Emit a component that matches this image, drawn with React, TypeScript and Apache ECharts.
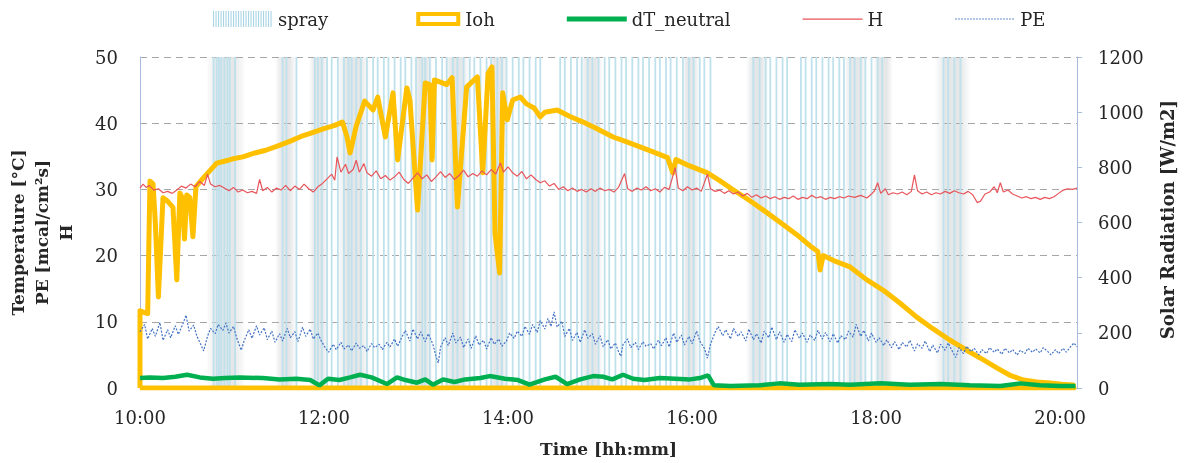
import React, { useEffect, useRef } from 'react';
import * as echarts from 'echarts';

// x values are minutes after 10:00
const xTickLabels = ['10:00', '12:00', '14:00', '16:00', '18:00', '20:00'];

// spray pulses (minutes after 10:00)
const sprayTimes = [48, 50, 51.5, 53, 55, 57, 58.5, 62, 93, 95.5, 102, 114, 116, 118.5, 122, 125, 129, 133, 136, 138, 141, 144, 148, 152, 155, 159, 162, 166, 170, 173, 177, 180, 184, 186, 189, 193, 197, 200, 204, 207, 211, 215, 218, 222, 226, 229, 233, 236, 239, 243, 247, 250, 254, 258, 261, 274, 277, 281, 285, 288, 292, 295, 299, 303, 306, 310, 314, 317, 321, 325, 328, 332, 336, 339, 343, 346, 350, 354, 358, 361, 365, 368, 372, 400, 404, 408, 411, 415, 419, 422, 431, 434, 438, 441, 445, 449, 452, 456, 459, 463, 466, 470, 473, 477, 481, 484, 524, 527, 531, 535];
// denser spray spells (start, end minutes)
const sprayBands = [[47, 65], [92, 98], [114, 119], [132, 146], [182, 187], [202, 211], [231, 236], [291, 298], [357, 361], [399, 406], [463, 470], [482, 487], [522, 538]];

// Ioh outline (minutes, W/m2)
const iohData = [[0, 0], [0, 280], [2, 275], [5, 270], [6.5, 750], [8.5, 740], [10, 600], [12, 330], [15, 690], [17.5, 680], [21.5, 655], [24, 392], [26, 707], [27.5, 690], [29, 540], [30.5, 700], [32.5, 690], [34.5, 548], [36.5, 730], [41, 760], [47.5, 800], [50, 815], [55, 822], [60, 830], [67, 838], [75, 852], [82, 862], [90, 878], [98, 895], [105, 912], [112, 925], [120, 940], [127, 952], [132, 964], [135, 910], [137, 852], [141, 950], [146.5, 1040], [152, 1008], [155, 1055], [160, 910], [165, 1070], [168, 827], [174, 1088], [176, 1044], [181, 645], [186, 1106], [189, 1100], [190.5, 827], [192, 1117], [200, 1100], [203.5, 1125], [207, 656], [213, 1091], [220, 1128], [223.5, 780], [227, 1142], [229.5, 1164], [231.5, 562], [234.5, 417], [236.5, 1070], [239.5, 972], [243, 1044], [248, 1055], [252, 1030], [257, 1015], [261, 983], [264, 1000], [272, 1008], [280, 985], [289, 964], [298, 940], [308.5, 910], [317, 893], [326, 874], [335, 855], [344, 835], [347.5, 780], [349.5, 828], [358, 806], [370, 780], [378, 752], [387, 718], [398, 678], [409, 635], [420, 590], [430, 548], [437, 515], [442, 495], [443.5, 428], [445.5, 480], [454, 458], [463, 439], [474, 392], [484.5, 355], [495.5, 308], [506.5, 257], [517, 215], [528, 174], [539, 137], [550, 102], [559, 72], [567, 47], [576, 29], [585, 22], [593.5, 18], [601, 14], [608.5, 11], [609, 0], [0, 0]];

// dT_neutral (minutes, degC)
const dtData = [[0, 1.5], [6.5, 1.6], [15, 1.5], [23, 1.7], [30.7, 2.0], [39, 1.6], [47.6, 1.4], [55.4, 1.5], [65, 1.6], [80, 1.5], [91, 1.3], [102, 1.4], [111, 1.2], [117, 0.4], [122.6, 1.4], [130, 1.2], [137, 1.6], [143.5, 2.0], [151, 1.6], [161, 0.6], [167.6, 1.6], [173, 1.2], [180.6, 0.8], [186, 1.3], [191, 0.5], [197.6, 1.3], [205, 0.9], [212, 1.3], [222, 1.5], [228, 1.8], [238, 1.4], [246.5, 1.2], [254, 0.5], [264, 1.3], [271, 1.7], [278.5, 0.6], [287, 1.3], [295.5, 1.8], [302, 1.7], [308, 1.3], [315, 2.0], [321.5, 1.4], [329, 1.2], [339, 1.5], [349, 1.4], [358.7, 1.3], [365, 1.5], [370.4, 1.9], [374.3, 0.4], [385, 0.3], [404, 0.4], [417, 0.7], [430, 0.5], [450, 0.6], [463, 0.5], [483, 0.7], [502, 0.5], [522, 0.6], [541, 0.4], [561, 0.3], [574, 0.7], [587, 0.4], [600, 0.3], [610, 0.3]];

// H (minutes, value)
const hData = [[0, 30.2], [2, 30.8], [4, 30.3], [6, 30.6], [9, 29.9], [12, 30.1], [15, 29.5], [18, 29.7], [21, 29.4], [24, 29.9], [27, 30.5], [30, 30.2], [33, 30.8], [36, 30.4], [39, 31.2], [42, 30.6], [44, 32.3], [46, 30.8], [49, 30.4], [52, 30.6], [55, 30.2], [58, 29.8], [61, 30.3], [64, 29.6], [67, 29.9], [70, 29.5], [73, 29.7], [76, 29.4], [78, 31.5], [80, 29.8], [83, 30.3], [86, 29.6], [89, 30.2], [92, 29.9], [95, 30.6], [98, 29.8], [101, 30.5], [104, 30.0], [107, 30.8], [110, 30.1], [113, 29.6], [116, 30.4], [119, 30.9], [122, 31.6], [125, 32.3], [127, 31.4], [128.5, 34.9], [131, 32.6], [134, 33.8], [136, 32.4], [139, 33.0], [141, 34.4], [143, 32.6], [146, 33.9], [148, 32.5], [151, 32.0], [154, 32.8], [157, 31.6], [160, 32.1], [163, 31.4], [166, 31.9], [169, 32.6], [172, 31.5], [175, 30.9], [178, 31.7], [181, 32.5], [184, 31.6], [187, 32.2], [190, 31.2], [193, 31.9], [196, 32.7], [199, 31.8], [202, 32.4], [205, 31.5], [208, 32.1], [211, 32.9], [214, 31.9], [217, 32.4], [220, 32.0], [223, 32.8], [226, 32.2], [229, 33.0], [232, 32.3], [235, 34.0], [237, 32.6], [240, 33.4], [243, 32.5], [246, 32.0], [249, 32.7], [252, 31.6], [255, 32.2], [258, 31.5], [261, 31.0], [264, 31.3], [267, 30.5], [270, 30.9], [273, 30.0], [276, 30.4], [279, 29.8], [282, 30.2], [285, 29.7], [288, 30.0], [291, 29.6], [294, 30.1], [297, 29.7], [300, 30.2], [303, 29.8], [306, 30.0], [309, 29.6], [312, 30.3], [316, 32.4], [318, 30.1], [321, 29.7], [324, 30.2], [327, 29.9], [330, 30.4], [333, 29.8], [336, 30.1], [339, 29.6], [342, 30.3], [345, 30.0], [349, 33.3], [351, 30.2], [354, 29.8], [357, 30.4], [360, 29.9], [363, 30.2], [366, 29.7], [370, 32.3], [372, 30.1], [375, 29.7], [378, 29.9], [381, 29.4], [384, 29.8], [387, 29.3], [390, 29.6], [393, 29.0], [396, 29.4], [399, 28.8], [402, 29.2], [405, 28.7], [408, 29.0], [411, 28.6], [414, 28.9], [417, 28.5], [420, 28.8], [423, 28.6], [426, 29.0], [429, 28.5], [432, 28.8], [435, 28.6], [438, 29.1], [441, 28.7], [444, 28.9], [447, 28.5], [450, 28.8], [453, 28.6], [456, 28.9], [459, 28.7], [462, 29.0], [466, 28.8], [470, 29.1], [474, 28.7], [477, 29.3], [479, 29.8], [481, 31.0], [483, 29.4], [486, 30.1], [488, 29.2], [491, 29.5], [494, 29.3], [497, 29.6], [500, 29.2], [503, 29.7], [505, 32.2], [507, 29.8], [510, 29.3], [513, 29.6], [516, 29.2], [519, 29.5], [522, 29.3], [525, 29.7], [528, 29.4], [531, 29.8], [534, 29.5], [537, 29.3], [540, 29.7], [543, 29.2], [546, 28.0], [548, 28.2], [551, 29.3], [554, 29.6], [557, 30.4], [559, 29.5], [561, 31.0], [563, 29.6], [566, 29.9], [569, 29.3], [572, 29.0], [575, 28.7], [578, 28.9], [581, 28.6], [584, 28.8], [587, 28.5], [590, 28.8], [593, 28.6], [596, 28.9], [599, 29.4], [602, 29.9], [605, 30.1], [608, 30.0], [611, 30.2]];

// PE (minutes, mcal/cm2s)
const peData = [[0, 8.5], [3, 9.6], [5, 7.4], [8, 9.0], [10, 7.8], [13, 9.9], [15, 7.2], [18, 8.8], [20, 7.6], [23, 9.4], [25, 8.1], [28, 9.7], [30, 11.0], [32, 8.6], [35, 9.5], [37, 7.9], [40, 6.4], [41.5, 5.6], [44, 7.8], [46, 9.0], [49, 8.2], [51, 9.6], [54, 8.7], [56, 9.8], [58, 8.3], [61, 9.3], [63, 7.6], [66, 5.7], [68, 7.2], [71, 8.8], [73, 7.5], [76, 9.4], [78, 8.0], [81, 9.1], [83, 7.3], [86, 8.6], [88, 6.9], [91, 8.2], [93, 7.1], [96, 9.0], [98, 7.6], [101, 8.5], [103, 7.0], [106, 9.2], [108, 7.8], [111, 8.9], [113, 7.4], [116, 8.3], [118, 7.2], [121, 6.0], [123, 5.4], [126, 6.6], [128, 5.8], [131, 6.9], [133, 5.9], [136, 6.5], [138, 5.6], [141, 6.8], [143, 6.0], [146, 6.4], [148, 5.5], [151, 6.7], [153, 6.1], [156, 6.6], [158, 5.8], [161, 6.9], [163, 6.2], [166, 7.4], [168, 6.3], [171, 7.8], [173, 8.7], [176, 7.1], [178, 8.9], [181, 7.4], [183, 8.5], [186, 7.0], [188, 8.2], [191, 6.6], [193, 4.8], [194.5, 3.8], [196, 6.2], [199, 7.6], [201, 6.4], [204, 8.3], [206, 6.8], [209, 7.7], [211, 6.1], [214, 7.4], [216, 6.0], [219, 7.9], [221, 6.5], [224, 7.2], [226, 5.9], [229, 7.6], [231, 6.6], [234, 7.4], [236, 6.3], [239, 7.1], [241, 8.3], [244, 7.5], [246, 8.6], [249, 7.8], [251, 9.3], [254, 8.1], [256, 9.6], [259, 8.4], [261, 10.2], [264, 8.9], [266, 10.5], [268, 9.3], [270, 11.5], [272, 9.2], [275, 10.1], [277, 7.8], [280, 9.0], [282, 7.2], [285, 8.4], [287, 6.9], [290, 8.8], [292, 7.5], [295, 8.2], [297, 6.6], [300, 7.9], [302, 6.2], [305, 7.3], [307, 5.9], [310, 6.8], [312, 5.5], [313.5, 4.8], [315, 6.6], [318, 7.4], [320, 6.1], [323, 6.9], [325, 5.8], [328, 7.0], [330, 6.3], [333, 6.7], [335, 5.9], [338, 7.2], [340, 6.4], [343, 7.6], [345, 6.2], [348, 8.3], [350, 6.9], [353, 8.0], [355, 6.5], [358, 7.8], [360, 6.7], [363, 8.6], [365, 7.1], [368, 6.0], [370, 4.5], [372, 6.6], [375, 8.4], [377, 9.3], [380, 7.9], [382, 8.8], [385, 7.4], [387, 9.0], [390, 7.8], [392, 8.5], [395, 7.1], [397, 8.9], [400, 7.3], [402, 8.2], [405, 6.8], [407, 8.6], [410, 7.6], [412, 9.2], [415, 7.3], [417, 8.5], [420, 6.9], [422, 8.1], [425, 7.0], [427, 8.8], [430, 7.5], [432, 8.3], [435, 6.9], [437, 8.0], [440, 7.2], [442, 8.7], [445, 7.4], [447, 8.4], [450, 7.0], [452, 8.2], [455, 6.8], [457, 7.9], [460, 7.3], [462, 8.6], [465, 7.7], [467, 9.6], [470, 7.8], [472, 8.7], [475, 7.1], [477, 8.3], [480, 6.9], [482, 7.6], [485, 6.4], [487, 7.3], [490, 6.1], [492, 7.0], [495, 5.8], [497, 6.9], [500, 6.2], [502, 7.2], [505, 5.6], [507, 6.7], [510, 6.0], [512, 7.1], [515, 5.5], [517, 6.5], [520, 5.3], [522, 6.6], [525, 5.7], [527, 6.8], [530, 5.4], [532, 4.6], [534, 6.1], [537, 5.2], [539, 6.3], [542, 5.5], [544, 6.0], [547, 5.0], [549, 5.8], [552, 5.2], [554, 6.1], [557, 5.4], [559, 5.9], [562, 5.1], [564, 6.0], [567, 5.3], [569, 5.8], [572, 5.0], [574, 5.7], [577, 5.2], [579, 6.0], [582, 5.4], [584, 5.9], [587, 5.3], [589, 6.1], [592, 5.5], [594, 5.0], [597, 5.8], [599, 5.2], [602, 6.0], [604, 5.4], [607, 6.3], [609, 6.8], [611, 6.2]];

const FONT = 'DejaVu Serif';
const TXT = '#262626';

function buildIcons() {
  const corners = 'M0 0h0.01v0.01H0z M59.99 15.99h0.01v0.01h-0.01z ';
  let stripes = corners;
  for (let i = 0; i < 24; i++) stripes += `M${i * 2.5} 0h1.1v16h-1.1z `;
  let dots = corners;
  for (let i = 0; i < 20; i++) dots += `M${i * 3} 7.4h1.6v1.2h-1.6z `;
  return {
    spray: 'path://' + stripes,
    ioh: 'path://' + corners + 'M16 1h44v4H16z M16 11h44v4H16z M16 5h4v6h-4z M56 5h4v6h-4z',
    dt: 'path://' + corners + 'M0 5.6h60v4.8H0z',
    h: 'path://' + corners + 'M0 7.4h60v1.3H0z',
    pe: 'path://' + dots,
  };
}

export default function App() {
  const ref = useRef<HTMLDivElement>(null);
  useEffect(() => {
    if (!ref.current) return;
    const chart = echarts.init(ref.current, undefined, { renderer: 'svg' });
    const icons = buildIcons();
    const option: any = {
      animation: false,
      textStyle: { fontFamily: FONT },
      legend: {
        left: 208,
        top: 5,
        itemWidth: 60,
        itemHeight: 16,
        itemGap: 72,
        textStyle: { fontSize: 18, color: TXT, fontFamily: FONT },
        data: [
          { name: 'spray', icon: icons.spray, itemStyle: { color: '#a9d5e6', borderWidth: 0 } },
          { name: 'Ioh', icon: icons.ioh, itemStyle: { color: '#FFC000', borderWidth: 0 } },
          { name: 'dT_neutral', icon: icons.dt, itemStyle: { color: '#00B050', borderWidth: 0 } },
          { name: 'H', icon: icons.h, itemStyle: { color: '#E8555A', borderWidth: 0 } },
          { name: 'PE', icon: icons.pe, itemStyle: { color: '#4472C4', borderWidth: 0 } },
        ],
      },
      grid: { left: 140, right: 112, top: 57, bottom: 75, outerBoundsMode: 'none' },
      xAxis: {
        type: 'value',
        min: 0,
        max: 611,
        interval: 120,
        name: 'Time [hh:mm]',
        nameLocation: 'middle',
        nameGap: 52,
        nameTextStyle: { fontSize: 17, fontWeight: 'bold', color: TXT, fontFamily: FONT },
        axisLine: { show: true, lineStyle: { color: '#bfbfbf' } },
        axisTick: { show: false },
        splitLine: { show: false },
        axisLabel: {
          showMaxLabel: false,
          margin: 20,
          fontSize: 18,
          color: TXT,
          fontFamily: FONT,
          formatter: (v: number) => (v % 120 === 0 ? xTickLabels[v / 120] ?? '' : ''),
        },
      },
      yAxis: [
        {
          type: 'value',
          min: 0,
          max: 50,
          interval: 10,
          name: 'Temperature [°C]\nPE [mcal/cm²s]\nH',
          nameLocation: 'middle',
          nameRotate: 90,
          nameGap: 62,
          nameTextStyle: { fontSize: 17, fontWeight: 'bold', color: TXT, fontFamily: FONT, lineHeight: 24, padding: [0, 20, 0, 0] },
          axisLine: { show: true, lineStyle: { color: '#a9bcd9' } },
          axisTick: { show: false },
          splitLine: { show: true, lineStyle: { color: '#a6a6a6', type: [7, 5], width: 1 } },
          axisLabel: { margin: 22, fontSize: 18, color: TXT, fontFamily: FONT },
        },
        {
          type: 'value',
          min: 0,
          max: 1200,
          interval: 200,
          position: 'right',
          name: 'Solar Radiation [W/m2]',
          nameLocation: 'middle',
          nameRotate: 90,
          nameGap: 81,
          nameTextStyle: { fontSize: 18, fontWeight: 'bold', color: TXT, fontFamily: FONT, padding: [0, 0, 0, 6] },
          axisLine: { show: true, lineStyle: { color: '#a9bcd9' } },
          axisTick: { show: true, length: 5, inside: false, lineStyle: { color: '#a9bcd9' } },
          splitLine: { show: false },
          axisLabel: { margin: 21, fontSize: 18, color: TXT, fontFamily: FONT, formatter: (v: number) => String(v) },
        },
      ],
      series: [
        {
          name: 'spray',
          type: 'custom',
          xAxisIndex: 0,
          yAxisIndex: 0,
          clip: true,
          silent: true,
          itemStyle: { color: '#a9d5e6' },
          data: sprayBands,
          encode: { x: [0, 1] },
          renderItem: (params: any, api: any) => {
            const a = api.coord([api.value(0), 50]);
            const b = api.coord([api.value(1), 0]);
            const w = b[0] - a[0];
            return {
              type: 'rect',
              shape: { x: a[0] - 6, y: a[1], width: w + 12, height: b[1] - a[1] },
              style: {
                fill: new echarts.graphic.LinearGradient(0, 0, 1, 0, [
                  { offset: 0, color: 'rgba(175,180,186,0)' },
                  { offset: 0.3, color: 'rgba(175,180,186,0.32)' },
                  { offset: 0.7, color: 'rgba(175,180,186,0.32)' },
                  { offset: 1, color: 'rgba(175,180,186,0)' },
                ]),
              },
            };
          },
        },
        {
          name: 'spray',
          type: 'custom',
          xAxisIndex: 0,
          yAxisIndex: 0,
          clip: true,
          silent: true,
          itemStyle: { color: '#a9d5e6' },
          data: sprayTimes.map((t) => [t, 50]),
          encode: { x: 0, y: 1 },
          renderItem: (params: any, api: any) => {
            const a = api.coord([api.value(0), api.value(1)]);
            const b = api.coord([api.value(0), 0]);
            return {
              type: 'rect',
              shape: { x: a[0] - 0.9, y: a[1], width: 1.8, height: b[1] - a[1] },
              style: { fill: '#bfe1ec' },
            };
          },
        },
        {
          name: 'Ioh',
          type: 'line',
          yAxisIndex: 1,
          data: iohData,
          showSymbol: false,
          symbol: 'none',
          lineStyle: { color: '#FFC000', width: 5, join: 'round' },
          itemStyle: { color: '#FFC000' },
        },
        {
          name: 'dT_neutral',
          type: 'line',
          yAxisIndex: 0,
          data: dtData,
          showSymbol: false,
          symbol: 'none',
          lineStyle: { color: '#00B050', width: 4.5 },
          itemStyle: { color: '#00B050' },
        },
        {
          name: 'H',
          type: 'line',
          yAxisIndex: 0,
          data: hData,
          showSymbol: false,
          symbol: 'none',
          lineStyle: { color: '#E8555A', width: 1.2 },
          itemStyle: { color: '#E8555A' },
        },
        {
          name: 'PE',
          type: 'line',
          yAxisIndex: 0,
          data: peData,
          showSymbol: false,
          symbol: 'none',
          lineStyle: { color: '#4472C4', width: 1.2, type: [2, 1.5] },
          itemStyle: { color: '#4472C4' },
        },
      ],
    };
    chart.setOption(option);
    return () => chart.dispose();
  }, []);
  return <div ref={ref} style={{ position: 'fixed', left: 0, top: 0, width: 1189, height: 463 }} />;
}
